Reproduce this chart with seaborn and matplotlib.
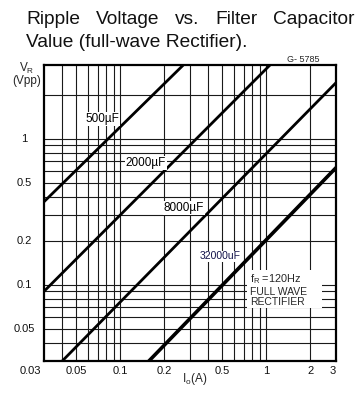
import numpy as np
import pandas as pd
import matplotlib
matplotlib.use("Agg")
import matplotlib.pyplot as plt
import seaborn as sns
from matplotlib import transforms
from matplotlib.patches import Rectangle

sns.set_style("white")
plt.rcParams['font.family'] = ['Liberation Sans', 'DejaVu Sans']
plt.rcParams['mathtext.fontset'] = 'custom'
plt.rcParams['mathtext.rm'] = 'Liberation Sans'
plt.rcParams['mathtext.it'] = 'Liberation Sans:italic'
plt.rcParams['mathtext.bf'] = 'Liberation Sans:bold'

# ---- data ----
cap_labels = ["500\u00b5F", "2000\u00b5F", "8000\u00b5F", "32000uF"]
i_500 = [0.03, 0.27]
v_500 = [0.37, 3.2]
i_2000 = [0.03, 1.06]
v_2000 = [0.09, 3.2]
i_8000 = [0.04, 3.0]
v_8000 = [0.03, 2.42]
i_32000 = [0.157, 3.0]
v_32000 = [0.03, 0.633]

x_ticks = [0.03, 0.05, 0.1, 0.2, 0.5, 1, 2, 3]
x_tick_labels = ["0.03", "0.05", "0.1", "0.2", "0.5", "1", "2", "3"]
y_ticks = [0.05, 0.1, 0.2, 0.5, 1]
y_tick_labels = ["0.05", "0.1", "0.2", "0.5", "1"]
grid_x = [0.04, 0.05, 0.06, 0.07, 0.08, 0.09, 0.1, 0.2, 0.3, 0.4, 0.5, 0.6, 0.7, 0.8, 0.9, 1, 2]
grid_y = [0.04, 0.05, 0.06, 0.07, 0.08, 0.09, 0.1, 0.2, 0.3, 0.4, 0.5, 0.6, 0.7, 0.8, 0.9, 1, 2]

df = pd.DataFrame({
    "I": i_500 + i_2000 + i_8000 + i_32000,
    "V": v_500 + v_2000 + v_8000 + v_32000,
    "C": [cap_labels[0]] * 2 + [cap_labels[1]] * 2 + [cap_labels[2]] * 2 + [cap_labels[3]] * 2,
})

W, H = 361, 401
fig = plt.figure(figsize=(W / 100, H / 100), dpi=100)
ax = fig.add_axes([44 / W, 1 - 361 / H, 292 / W, 296 / H])
ax.set_xscale("log")
ax.set_yscale("log")
ax.set_xlim(0.03, 3)
ax.set_ylim(0.03, 3.2)

for g in grid_x:
    ax.axvline(g, color="#1a1a1a", lw=0.8, zorder=1)
for g in grid_y:
    ax.axhline(g, color="#1a1a1a", lw=0.8, zorder=1)

widths = {cap_labels[0]: 2.0, cap_labels[1]: 2.0, cap_labels[2]: 2.0, cap_labels[3]: 2.6}
for c in cap_labels:
    sub = df[df["C"] == c]
    sns.lineplot(data=sub, x="I", y="V", ax=ax, color="black", lw=widths[c],
                 zorder=3, legend=False, estimator=None)

ax.set_xticks([])
ax.set_xticks([], minor=True)
ax.set_yticks([])
ax.set_yticks([], minor=True)
ax.set_xlabel("")
ax.set_ylabel("")
for s in ax.spines.values():
    s.set_color("black")
    s.set_linewidth(1.6)
    s.set_zorder(4)

# tick labels
bx = transforms.blended_transform_factory(ax.transData, fig.transFigure)
x_offsets = {0.03: -14, 3: -3}
for v, lab in zip(x_ticks, x_tick_labels):
    off = transforms.ScaledTranslation(x_offsets.get(v, 0) / 100, 0, fig.dpi_scale_trans)
    ax.text(v, 1 - 371 / H, lab, transform=bx + off, ha="center", va="center",
            fontsize=8, color="#111111")
by = transforms.blended_transform_factory(fig.transFigure, ax.transData)
for v, lab in zip(y_ticks, y_tick_labels):
    ax.text(24 / W, v, lab, transform=by, ha="center", va="center",
            fontsize=8, color="#111111")

def fpx(x, y):
    return x / W, 1 - y / H

# curve labels
lab_pos = {cap_labels[0]: (0.0749, 1.36), cap_labels[1]: (0.150, 0.681),
           cap_labels[2]: (0.273, 0.335), cap_labels[3]: (0.481, 0.157)}
for c in cap_labels[:3]:
    ax.text(*lab_pos[c], c, ha="center", va="center", fontsize=8.5, color="black", zorder=5,
            bbox=dict(facecolor="white", edgecolor="none", pad=0.6))
ax.text(*lab_pos[cap_labels[3]], cap_labels[3], ha="center", va="center", fontsize=7.5,
        color="#12124a", zorder=5, bbox=dict(facecolor="white", edgecolor="none", pad=0.4))

# note block
ax.add_patch(Rectangle((0.695, 0.179), 0.257, 0.128, transform=ax.transAxes,
                       facecolor="white", edgecolor="none", zorder=2))
ax.text(0.773, 0.109, r"f$_\mathregular{R}$ =120Hz", ha="left", va="center", fontsize=7.8, zorder=5)
ax.text(0.773, 0.0891, "FULL WAVE", ha="left", va="center", fontsize=7.5, zorder=5)
ax.text(0.773, 0.0762, "RECTIFIER", ha="left", va="center", fontsize=7.5, zorder=5)

# axis labels & misc
fig.text(*fpx(27, 68), r"V$_\mathregular{R}$", ha="center", va="center", fontsize=8.5)
fig.text(*fpx(27, 81), "(Vpp)", ha="center", va="center", fontsize=8.5)
fig.text(*fpx(195, 379), r"I$_\mathregular{o}$(A)", ha="center", va="center", fontsize=8.5)
fig.text(*fpx(303, 59), "G- 5785", ha="center", va="center", fontsize=6.5)

# title (justified first line)
TS = 13.8
words = ["Ripple", "Voltage", "vs.", "Filter", "Capacitor"]
fig.canvas.draw()
r = fig.canvas.get_renderer()
tmp = [fig.text(0, 0, w, fontsize=TS) for w in words]
ws = [t.get_window_extent(r).width for t in tmp]
for t in tmp:
    t.remove()
x0, x1 = 26, 355
gap = (x1 - x0 - sum(ws)) / (len(words) - 1)
x = x0
for w, wd in zip(words, ws):
    fig.text(x / W, 1 - 24 / H, w, fontsize=TS, ha="left", va="baseline", color="#111111")
    x += wd + gap
fig.text(26 / W, 1 - 47 / H, "Value (full-wave Rectifier).", fontsize=TS, ha="left",
         va="baseline", color="#111111")

fig.savefig("out.png", dpi=100)
